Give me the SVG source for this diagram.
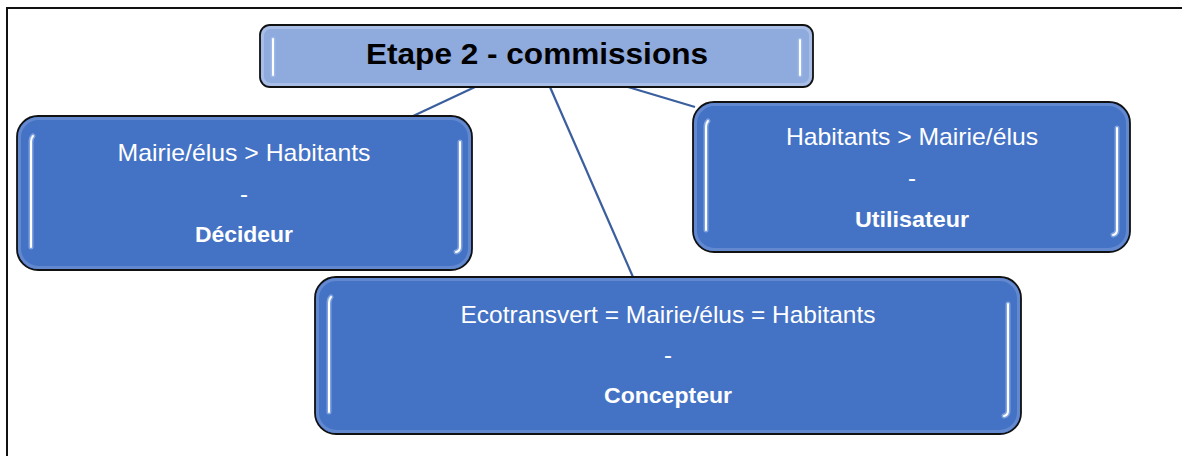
<svg xmlns="http://www.w3.org/2000/svg" width="1182" height="456" viewBox="0 0 1182 456">
  <defs>
    <style>
      .frame { stroke: #111; stroke-width: 2; fill: none; }
      .box { fill: #4472C4; stroke: #111; stroke-width: 1.8; }
      .boxlight { fill: #8FAADC; stroke: #111; stroke-width: 1.8; }
      .bevel { fill: none; stroke: #6f92d4; stroke-width: 3; opacity: 0.7; }
      .bevellight { fill: none; stroke: #b3c6ea; stroke-width: 3; opacity: 0.7; }
      .glow { fill: none; stroke: #a9c4f2; stroke-width: 5; stroke-linecap: round; opacity: 0.6; }
      .hl { fill: none; stroke: #ffffff; stroke-width: 2; stroke-linecap: round; }
      .conn { stroke: #3A5E9E; stroke-width: 2.2; fill: none; }
      .t { font-family: "Liberation Sans", Arial, sans-serif; fill: #ffffff; font-size: 24px; text-anchor: middle; }
      .b { font-weight: bold; font-size: 22px; }
      .title { font-family: "Liberation Sans", Arial, sans-serif; fill: #000000; font-size: 29px; font-weight: bold; text-anchor: middle; }
    </style>
  </defs>

  <rect width="1182" height="456" fill="#ffffff"/>
  <path class="frame" d="M7 456 V8 H1182"/>

  <g id="connectors">
    <line class="conn" x1="475" y1="87" x2="411" y2="117"/>
    <line class="conn" x1="550" y1="87" x2="633" y2="277"/>
    <line class="conn" x1="628" y1="87" x2="695" y2="107"/>
  </g>

  <g id="node-title">
    <rect class="boxlight" x="260" y="25" width="553" height="62" rx="10"/>
    <rect class="bevellight" x="262.5" y="27.5" width="548" height="57" rx="8"/>
    <path class="glow" d="M273 39 V75"/>
    <path class="hl" d="M273 39 V75"/>
    <path class="glow" d="M800 40 V75"/>
    <path class="hl" d="M800 40 V75"/>
    <text class="title" x="537" y="64" textLength="342" lengthAdjust="spacingAndGlyphs">Etape 2 - commissions</text>
  </g>

  <g id="node-decideur">
    <rect class="box" x="17" y="116" width="455" height="154" rx="21"/>
    <rect class="bevel" x="19.5" y="118.5" width="450" height="149" rx="19"/>
    <path class="glow" d="M33 136 Q31 138 31 142 V247"/>
    <path class="hl" d="M33 136 Q31 138 31 142 V247"/>
    <path class="glow" d="M460 142 V247 Q460 251 456 252"/>
    <path class="hl" d="M460 142 V247 Q460 251 456 252"/>
    <text class="t" x="244" y="161" textLength="253" lengthAdjust="spacingAndGlyphs">Mairie/élus &gt; Habitants</text>
    <text class="t" x="244" y="202">-</text>
    <text class="t b" x="244" y="242" textLength="98" lengthAdjust="spacingAndGlyphs">Décideur</text>
  </g>

  <g id="node-utilisateur">
    <rect class="box" x="693" y="102" width="437" height="150" rx="21"/>
    <rect class="bevel" x="695.5" y="104.5" width="432" height="145" rx="19"/>
    <path class="glow" d="M708 121 Q706 123 706 127 V230"/>
    <path class="hl" d="M708 121 Q706 123 706 127 V230"/>
    <path class="glow" d="M1117 128 V230 Q1117 234 1113 235"/>
    <path class="hl" d="M1117 128 V230 Q1117 234 1113 235"/>
    <text class="t" x="912" y="145" textLength="252" lengthAdjust="spacingAndGlyphs">Habitants &gt; Mairie/élus</text>
    <text class="t" x="912" y="186">-</text>
    <text class="t b" x="912" y="227" textLength="114" lengthAdjust="spacingAndGlyphs">Utilisateur</text>
  </g>

  <g id="node-concepteur">
    <rect class="box" x="315" y="277" width="706" height="157" rx="21"/>
    <rect class="bevel" x="317.5" y="279.5" width="701" height="152" rx="19"/>
    <path class="glow" d="M331 297 Q329 299 329 303 V412"/>
    <path class="hl" d="M331 297 Q329 299 329 303 V412"/>
    <path class="glow" d="M1008 304 V411 Q1008 415 1004 416"/>
    <path class="hl" d="M1008 304 V411 Q1008 415 1004 416"/>
    <text class="t" x="668" y="323" textLength="415" lengthAdjust="spacingAndGlyphs">Ecotransvert = Mairie/élus = Habitants</text>
    <text class="t" x="668" y="363">-</text>
    <text class="t b" x="668" y="403" textLength="128" lengthAdjust="spacingAndGlyphs">Concepteur</text>
  </g>
</svg>
